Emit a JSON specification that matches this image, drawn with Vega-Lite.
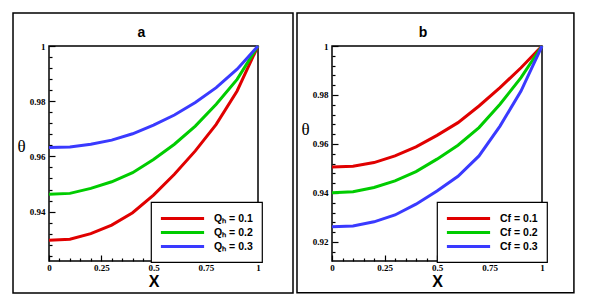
{
  "$schema": "https://vega.github.io/schema/vega-lite/v6.json",
  "background": "white",
  "padding": {"left": 11, "top": 11, "right": 0, "bottom": 0},
  "spacing": 0,
  "datasets": {
    "a": [
      {"X": 0, "theta": 0.9296, "series": "Qₕ = 0.1"},
      {"X": 0.1, "theta": 0.9300, "series": "Qₕ = 0.1"},
      {"X": 0.2, "theta": 0.9320, "series": "Qₕ = 0.1"},
      {"X": 0.3, "theta": 0.9351, "series": "Qₕ = 0.1"},
      {"X": 0.4, "theta": 0.9396, "series": "Qₕ = 0.1"},
      {"X": 0.5, "theta": 0.9460, "series": "Qₕ = 0.1"},
      {"X": 0.6, "theta": 0.9535, "series": "Qₕ = 0.1"},
      {"X": 0.7, "theta": 0.9620, "series": "Qₕ = 0.1"},
      {"X": 0.8, "theta": 0.9716, "series": "Qₕ = 0.1"},
      {"X": 0.9, "theta": 0.9837, "series": "Qₕ = 0.1"},
      {"X": 1, "theta": 1.0, "series": "Qₕ = 0.1"},
      {"X": 0, "theta": 0.9463, "series": "Qₕ = 0.2"},
      {"X": 0.1, "theta": 0.9466, "series": "Qₕ = 0.2"},
      {"X": 0.2, "theta": 0.9484, "series": "Qₕ = 0.2"},
      {"X": 0.3, "theta": 0.9508, "series": "Qₕ = 0.2"},
      {"X": 0.4, "theta": 0.9541, "series": "Qₕ = 0.2"},
      {"X": 0.5, "theta": 0.9589, "series": "Qₕ = 0.2"},
      {"X": 0.6, "theta": 0.9644, "series": "Qₕ = 0.2"},
      {"X": 0.7, "theta": 0.9710, "series": "Qₕ = 0.2"},
      {"X": 0.8, "theta": 0.9789, "series": "Qₕ = 0.2"},
      {"X": 0.9, "theta": 0.9879, "series": "Qₕ = 0.2"},
      {"X": 1, "theta": 1.0, "series": "Qₕ = 0.2"},
      {"X": 0, "theta": 0.9632, "series": "Qₕ = 0.3"},
      {"X": 0.1, "theta": 0.9634, "series": "Qₕ = 0.3"},
      {"X": 0.2, "theta": 0.9644, "series": "Qₕ = 0.3"},
      {"X": 0.3, "theta": 0.9659, "series": "Qₕ = 0.3"},
      {"X": 0.4, "theta": 0.9682, "series": "Qₕ = 0.3"},
      {"X": 0.5, "theta": 0.9713, "series": "Qₕ = 0.3"},
      {"X": 0.6, "theta": 0.9750, "series": "Qₕ = 0.3"},
      {"X": 0.7, "theta": 0.9795, "series": "Qₕ = 0.3"},
      {"X": 0.8, "theta": 0.9849, "series": "Qₕ = 0.3"},
      {"X": 0.9, "theta": 0.9916, "series": "Qₕ = 0.3"},
      {"X": 1, "theta": 1.0, "series": "Qₕ = 0.3"}
    ],
    "b": [
      {"X": 0, "theta": 0.9506, "series": "Cf = 0.1"},
      {"X": 0.1, "theta": 0.9509, "series": "Cf = 0.1"},
      {"X": 0.2, "theta": 0.9524, "series": "Cf = 0.1"},
      {"X": 0.3, "theta": 0.9551, "series": "Cf = 0.1"},
      {"X": 0.4, "theta": 0.9588, "series": "Cf = 0.1"},
      {"X": 0.5, "theta": 0.9635, "series": "Cf = 0.1"},
      {"X": 0.6, "theta": 0.9687, "series": "Cf = 0.1"},
      {"X": 0.7, "theta": 0.9755, "series": "Cf = 0.1"},
      {"X": 0.8, "theta": 0.9830, "series": "Cf = 0.1"},
      {"X": 0.9, "theta": 0.9911, "series": "Cf = 0.1"},
      {"X": 1, "theta": 1.0, "series": "Cf = 0.1"},
      {"X": 0, "theta": 0.9401, "series": "Cf = 0.2"},
      {"X": 0.1, "theta": 0.9405, "series": "Cf = 0.2"},
      {"X": 0.2, "theta": 0.9422, "series": "Cf = 0.2"},
      {"X": 0.3, "theta": 0.9449, "series": "Cf = 0.2"},
      {"X": 0.4, "theta": 0.9487, "series": "Cf = 0.2"},
      {"X": 0.5, "theta": 0.9538, "series": "Cf = 0.2"},
      {"X": 0.6, "theta": 0.9595, "series": "Cf = 0.2"},
      {"X": 0.7, "theta": 0.9667, "series": "Cf = 0.2"},
      {"X": 0.8, "theta": 0.9762, "series": "Cf = 0.2"},
      {"X": 0.9, "theta": 0.9871, "series": "Cf = 0.2"},
      {"X": 1, "theta": 1.0, "series": "Cf = 0.2"},
      {"X": 0, "theta": 0.9262, "series": "Cf = 0.3"},
      {"X": 0.1, "theta": 0.9265, "series": "Cf = 0.3"},
      {"X": 0.2, "theta": 0.9282, "series": "Cf = 0.3"},
      {"X": 0.3, "theta": 0.9310, "series": "Cf = 0.3"},
      {"X": 0.4, "theta": 0.9354, "series": "Cf = 0.3"},
      {"X": 0.5, "theta": 0.9408, "series": "Cf = 0.3"},
      {"X": 0.6, "theta": 0.9468, "series": "Cf = 0.3"},
      {"X": 0.7, "theta": 0.9551, "series": "Cf = 0.3"},
      {"X": 0.8, "theta": 0.9673, "series": "Cf = 0.3"},
      {"X": 0.9, "theta": 0.9816, "series": "Cf = 0.3"},
      {"X": 1, "theta": 1.0, "series": "Cf = 0.3"}
    ]
  },
  "resolve": {"scale": {"color": "independent"}},
  "hconcat": [
    {
      "width": 209,
      "height": 215,
      "title": {"text": "a", "anchor": "middle", "frame": "group", "dx": -12, "offset": -28},
      "resolve": {"axis": {"x": "independent", "y": "independent"}},
      "layer": [
        {
          "data": {"name": "a"},
          "mark": {"type": "line", "strokeWidth": 3},
          "encoding": {
            "x": {
              "field": "X", "type": "quantitative",
              "scale": {"domain": [0, 1], "nice": false, "zero": false},
              "axis": {"orient": "bottom", "title": "X", "values": [0, 0.25, 0.5, 0.75, 1], "format": ".2~f", "tickSize": -6}
            },
            "y": {
              "field": "theta", "type": "quantitative",
              "scale": {"domain": [0.9221, 1], "nice": false, "zero": false},
              "axis": {"orient": "left", "title": "θ", "titleX": -28, "titleY": 100, "values": [0.94, 0.96, 0.98, 1], "format": ".2~f", "tickSize": -6}
            },
            "color": {
              "field": "series", "type": "nominal",
              "scale": {"domain": ["Qₕ = 0.1", "Qₕ = 0.2", "Qₕ = 0.3"], "range": ["#e00000", "#00cc00", "#3a3aff"]},
              "legend": {"legendX": 102, "legendY": 156}
            }
          }
        },
        {
          "data": {"values": [{}]},
          "mark": {"type": "rect", "filled": false, "stroke": "#000", "strokeWidth": 1.5},
          "encoding": {
            "x": {
              "datum": -0.1722, "type": "quantitative",
              "axis": {"orient": "bottom", "title": null, "labels": false, "tickSize": -3,
                "values": [0.05, 0.1, 0.15, 0.2, 0.3, 0.35, 0.4, 0.45, 0.55, 0.6, 0.65, 0.7, 0.8, 0.85, 0.9, 0.95]}
            },
            "x2": {"datum": 1.1675},
            "y": {
              "datum": 1.012, "type": "quantitative",
              "axis": {"orient": "left", "title": null, "labels": false, "tickSize": -3,
                "values": [0.924, 0.928, 0.932, 0.936, 0.944, 0.948, 0.952, 0.956, 0.964, 0.968, 0.972, 0.976, 0.984, 0.988, 0.992, 0.996]}
            },
            "y2": {"datum": 0.9105}
          }
        }
      ]
    },
    {
      "width": 210,
      "height": 215,
      "title": {"text": "b", "anchor": "middle", "frame": "group", "dx": -14, "offset": -28},
      "resolve": {"axis": {"x": "independent", "y": "independent"}},
      "layer": [
        {
          "data": {"name": "b"},
          "mark": {"type": "line", "strokeWidth": 3},
          "encoding": {
            "x": {
              "field": "X", "type": "quantitative",
              "scale": {"domain": [0, 1], "nice": false, "zero": false},
              "axis": {"orient": "bottom", "title": "X", "values": [0, 0.25, 0.5, 0.75, 1], "format": ".2~f", "tickSize": -6}
            },
            "y": {
              "field": "theta", "type": "quantitative",
              "scale": {"domain": [0.9122, 1], "nice": false, "zero": false},
              "axis": {"orient": "left", "title": "θ", "titleX": -27, "titleY": 83, "values": [0.92, 0.94, 0.96, 0.98, 1], "format": ".2~f", "tickSize": -6}
            },
            "color": {
              "field": "series", "type": "nominal",
              "scale": {"domain": ["Cf = 0.1", "Cf = 0.2", "Cf = 0.3"], "range": ["#e00000", "#00cc00", "#3a3aff"]},
              "legend": {"legendX": 105, "legendY": 156}
            }
          }
        },
        {
          "data": {"values": [{}]},
          "mark": {"type": "rect", "filled": false, "stroke": "#000", "strokeWidth": 1.5},
          "encoding": {
            "x": {
              "datum": -0.1667, "type": "quantitative",
              "axis": {"orient": "bottom", "title": null, "labels": false, "tickSize": -3,
                "values": [0.05, 0.1, 0.15, 0.2, 0.3, 0.35, 0.4, 0.45, 0.55, 0.6, 0.65, 0.7, 0.8, 0.85, 0.9, 0.95]}
            },
            "x2": {"datum": 1.152},
            "y": {
              "datum": 1.0135, "type": "quantitative",
              "axis": {"orient": "left", "title": null, "labels": false, "tickSize": -3,
                "values": [0.912, 0.916, 0.924, 0.928, 0.932, 0.936, 0.944, 0.948, 0.952, 0.956, 0.964, 0.968, 0.972, 0.976, 0.984, 0.988, 0.992, 0.996]}
            },
            "y2": {"datum": 0.8992}
          }
        }
      ]
    }
  ],
  "config": {
    "view": {"stroke": "#000", "strokeWidth": 1.5},
    "axis": {
      "domain": false,
      "grid": false,
      "labelOverlap": false,
      "labelFlush": false,
      "tickColor": "#000",
      "tickWidth": 1.2,
      "labelFont": "Liberation Serif",
      "labelFontWeight": "bold",
      "labelFontSize": 9,
      "labelColor": "#000",
      "titleColor": "#000"
    },
    "axisX": {
      "titleFont": "Liberation Sans",
      "titleFontWeight": "bold",
      "titleFontSize": 16,
      "titlePadding": 1,
      "labelPadding": 8
    },
    "axisY": {
      "titleFont": "Liberation Serif",
      "titleFontWeight": "normal",
      "titleFontSize": 17,
      "titleAngle": 0,
      "titleAlign": "center",
      "titleBaseline": "middle",
      "labelPadding": 10
    },
    "title": {"font": "Liberation Sans", "fontWeight": "bold", "fontSize": 14, "color": "#000"},
    "legend": {
      "orient": "none",
      "title": null,
      "strokeColor": "#000",
      "strokeWidth": 1.2,
      "fillColor": "#fff",
      "padding": 9,
      "symbolType": "M-3.6,0H3.6",
      "symbolSize": 144,
      "symbolStrokeWidth": 3,
      "symbolOffset": 15,
      "labelFont": "Liberation Sans",
      "labelFontWeight": "bold",
      "labelFontSize": 10.5,
      "labelColor": "#000",
      "labelOffset": 24,
      "rowPadding": 0
    }
  }
}
